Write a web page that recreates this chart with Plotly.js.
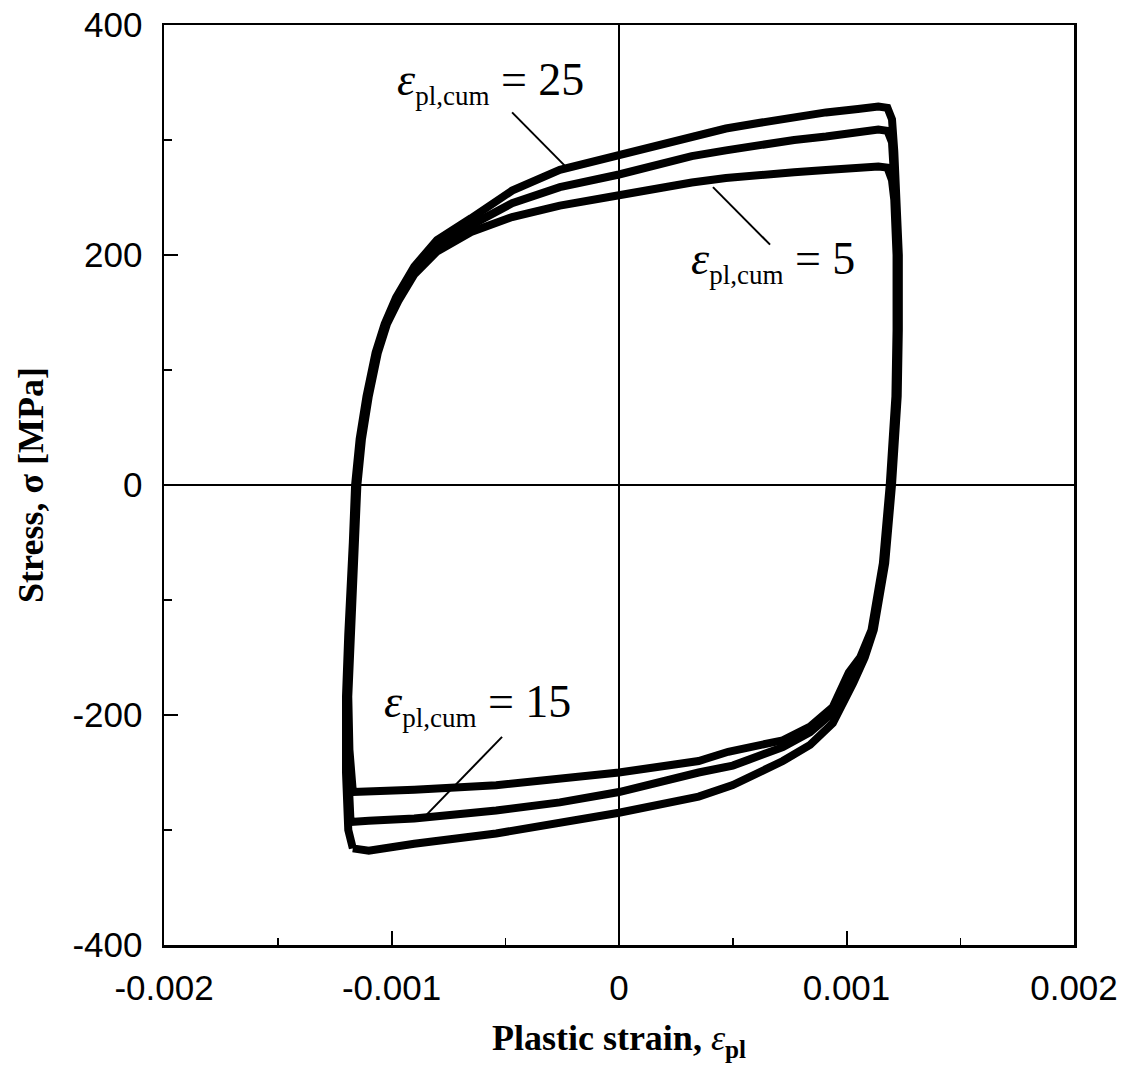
<!DOCTYPE html>
<html>
<head>
<meta charset="utf-8">
<script src="https://cdn.plot.ly/plotly-3.0.1.min.js"></script>
<style>
html,body{margin:0;padding:0;background:#fff;}
#chart{width:1127px;height:1076px;}
</style>
</head>
<body>
<div id="chart"></div>
<script>
// ---- Data (plastic strain, stress in MPa) ----
const strain25 = [-0.00117,-0.00119,-0.00120,-0.00120,-0.00119,-0.00118,-0.00117,-0.00116,-0.00114,-0.00111,-0.00107,-0.00103,-0.00098,-0.00090,-0.00080,-0.00065,-0.00047,-0.00026,0,0.00016,0.00032,0.00047,0.00062,0.00077,0.00091,0.00105,0.00114,0.00118,0.00120,0.00121,0.00122,0.00123,0.00123,0.001225,0.00120,0.00117,0.00112,0.00108,0.00103,0.00094,0.00084,0.00072,0.00050,0.00035,0,-0.00026,-0.00054,-0.00090,-0.00110,-0.00117];
const stress25 = [-316,-300,-250,-184,-130,-97,-50,0,40,77,115,140,163,190,213,232,256,274,287,296,304,310,315,320,324,327,329,328,318,290,248,200,135,77,0,-68,-126,-150,-172,-207,-226,-240,-261,-271,-285,-294,-303,-312,-318,-316];

const strain15 = [-0.00118,-0.00119,-0.001195,-0.001185,-0.001175,-0.001165,-0.001155,-0.001135,-0.001105,-0.001065,-0.001025,-0.000975,-0.00090,-0.00080,-0.00065,-0.00047,-0.00026,0,0.00016,0.00032,0.00047,0.00062,0.00077,0.00091,0.00105,0.00114,0.00118,0.00120,0.001215,0.001225,0.001225,0.00122,0.001195,0.001165,0.001115,0.00107,0.00102,0.00094,0.00084,0.00072,0.00050,0.00035,0,-0.00026,-0.00054,-0.00090,-0.00110,-0.00118];
const stress15 = [-293,-250,-184,-130,-97,-50,0,40,77,115,140,162,187,208,226,245,259,270,278,286,291,296,300,303,306,309,308,298,248,200,135,77,0,-68,-126,-150,-170,-198,-215,-228,-244,-250,-267,-276,-283,-290,-292,-293];

const strain5 = [-0.00117,-0.001185,-0.00119,-0.00118,-0.00117,-0.00116,-0.00115,-0.00113,-0.00110,-0.00106,-0.00102,-0.00097,-0.00090,-0.00080,-0.00065,-0.00047,-0.00026,0,0.00016,0.00032,0.00047,0.00062,0.00077,0.00091,0.00105,0.00114,0.00118,0.00120,0.00121,0.00122,0.00122,0.001215,0.00119,0.00116,0.00111,0.00106,0.00101,0.00094,0.00084,0.00072,0.00048,0.00035,0,-0.00026,-0.00054,-0.00090,-0.00110,-0.00117];
const stress5 = [-267,-230,-184,-130,-97,-50,0,40,77,115,140,160,183,203,220,233,243,252,258,263,267,270,272,274,276,277,276,265,248,200,135,77,0,-68,-126,-150,-163,-193,-210,-222,-232,-240,-250,-255,-261,-265,-267,-267];

// Tick labels
const xTickVals = [-0.002,-0.001,0,0.001,0.002];
const xTickText = ['-0.002','-0.001','0','0.001','0.002'];
const yTickVals = [-400,-200,0,200,400];
const yTickText = ['-400','-200','0','200','400'];

// Curve labels and their leader lines (data coordinates)
const labelText = ['25','5','15'];
const labelX = [-0.000985, 0.000308, -0.00104];
const labelY = [350, 194, -191];
const leaderX0 = [-0.00047, 0.000413, -0.000514];
const leaderY0 = [324, 259, -219];
const leaderX1 = [-0.00023, 0.000664, -0.000857];
const leaderY1 = [276, 209, -289];

const lineStyle = {color:'#000', width:8};
const traces = [
  {x:strain5, y:stress5, name:'ε_pl,cum = 5'},
  {x:strain15, y:stress15, name:'ε_pl,cum = 15'},
  {x:strain25, y:stress25, name:'ε_pl,cum = 25'}
].map(t => Object.assign(t, {type:'scatter', mode:'lines', line:lineStyle, showlegend:false, hoverinfo:'skip'}));

const serif = 'Liberation Serif, Times New Roman, serif';
const sans = 'Liberation Sans, Arial, Helvetica, sans-serif';

const annotations = labelText.map((t,i) => ({
  x: labelX[i], y: labelY[i], xref:'x', yref:'y', xanchor:'left', yanchor:'middle',
  showarrow:false,
  text: '<i>ε</i><sub><span style="font-size:27px">pl,cum</span></sub> = ' + t,
  font:{family:serif, size:46, color:'#000'}
}));

const shapes = labelText.map((t,i) => ({
  type:'line', xref:'x', yref:'y',
  x0:leaderX0[i], y0:leaderY0[i], x1:leaderX1[i], y1:leaderY1[i],
  line:{color:'#000', width:2}
}));

const axisCommon = {
  showline:true, linecolor:'#000', linewidth:2.5, mirror:true,
  showgrid:false, zeroline:true, zerolinecolor:'#000', zerolinewidth:1.5,
  ticks:'inside', ticklen:14, tickwidth:2, tickcolor:'#000',
  tickfont:{family:sans, size:35, color:'#000'},
  tickmode:'array'
};

const layout = {
  width:1127, height:1076,
  margin:{l:164, r:53, t:25, b:131},
  paper_bgcolor:'#fff', plot_bgcolor:'#fff',
  showlegend:false,
  xaxis: Object.assign({}, axisCommon, {
    range:[-0.002, 0.002], tickvals:xTickVals, ticktext:xTickText,
    ticklabelstandoff:10,
    minor:{tickmode:'linear', tick0:-0.002, dtick:0.0005, ticks:'inside', ticklen:7, tickwidth:1.5, tickcolor:'#000'},
    title:{text:'<b>Plastic strain, </b><i>ε</i><sub><b>pl</b></sub>', font:{family:serif, size:36, color:'#000'}, standoff:20}
  }),
  yaxis: Object.assign({}, axisCommon, {
    range:[-400, 400], tickvals:yTickVals, ticktext:yTickText,
    ticklabelstandoff:12,
    minor:{tickmode:'linear', tick0:-400, dtick:100, ticks:'inside', ticklen:8, tickwidth:1.5, tickcolor:'#000'},
    title:{text:'<b>Stress, σ [MPa]</b>', font:{family:serif, size:36, color:'#000'}, standoff:18}
  }),
  annotations: annotations,
  shapes: shapes
};

Plotly.newPlot('chart', traces, layout, {staticPlot:true, displayModeBar:false});
</script>
</body>
</html>
